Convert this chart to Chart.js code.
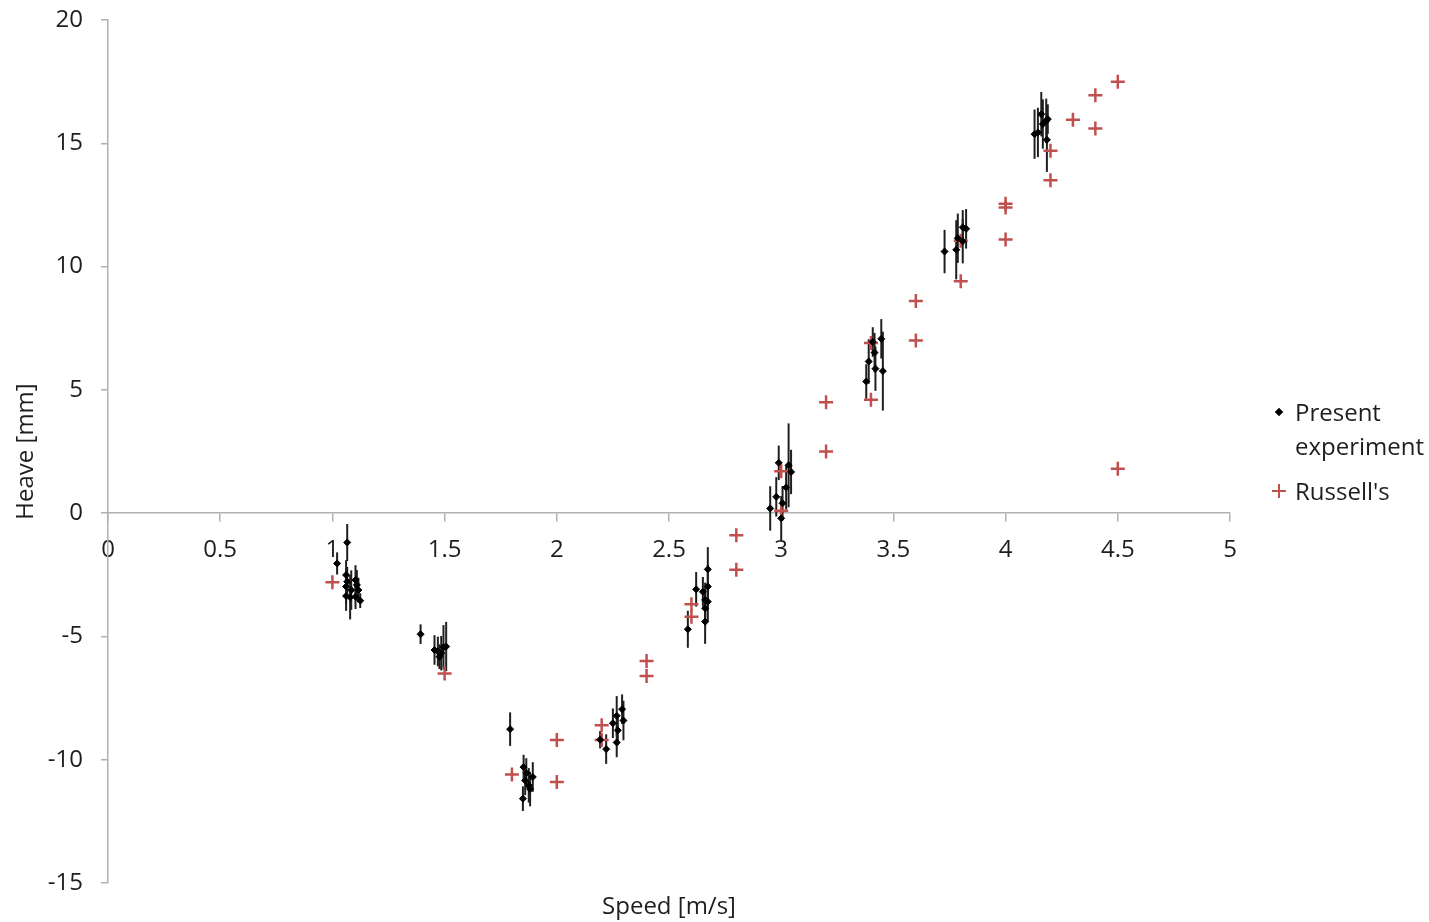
<!DOCTYPE html>
<html>
<head>
<meta charset="utf-8">
<script src="https://cdn.jsdelivr.net/npm/chart.js@4.4.1/dist/chart.umd.min.js"></script>
<style>
  body { margin: 0; background: #fff; font-family: "Open Sans", Lato, sans-serif; color: #1e1e1e; }
  #wrap { position: relative; width: 1429px; height: 922px; }
  #xtitle { position: absolute; left: 569px; width: 200px; top: 888px; text-align: center; font-size: 24px; }
  #legend { position: absolute; left: 1270px; top: 395px; font-size: 24px; line-height: 34px; }
  #legend .row { position: relative; padding-left: 25px; }
  #legend .dia { position: absolute; left: 6px; top: 14px; width: 6px; height: 6px; background: #000; transform: rotate(45deg); }
  #legend .plus { position: absolute; left: 2px; top: 10px; width: 14px; height: 14px; }
  #legend .plus:before, #legend .plus:after { content: ""; position: absolute; background: #c0504d; }
  #legend .plus:before { left: 6px; top: 0; width: 2px; height: 14px; }
  #legend .plus:after { left: 0; top: 6px; width: 14px; height: 2px; }
</style>
</head>
<body>
<div id="wrap">
  <canvas id="myChart"></canvas>
  <div id="xtitle">Speed [m/s]</div>
  <div id="legend">
    <div class="row"><span class="dia"></span>Present<br>experiment</div>
    <div class="row" style="margin-top:11px"><span class="plus"></span>Russell's</div>
  </div>
</div>
<script>
// present experiment: speed, heave and +/- error
var expSpeed = [1.021, 1.066, 1.061, 1.066, 1.061, 1.061, 1.079, 1.103, 1.109, 1.116, 1.103, 1.124, 1.084,
  1.393, 1.455, 1.470, 1.485, 1.495, 1.507, 1.477,
  1.792, 1.852, 1.864, 1.859, 1.875, 1.893, 1.849, 1.881,
  2.193, 2.220, 2.250, 2.267, 2.272, 2.291, 2.297, 2.267,
  2.584, 2.621, 2.673, 2.673, 2.661, 2.673, 2.661, 2.661, 2.651,
  2.951, 2.978, 2.989, 3.022, 3.033, 3.044, 3.000, 3.006,
  3.379, 3.390, 3.408, 3.416, 3.420, 3.446, 3.453,
  3.728, 3.780, 3.787, 3.809, 3.824, 3.809,
  4.129, 4.144, 4.159, 4.166, 4.181, 4.188, 4.184];
var expHeave = [-2.04, -1.19, -2.51, -2.78, -2.98, -3.36, -3.41, -2.71, -2.91, -3.12, -3.39, -3.55, -3.12,
  -4.91, -5.55, -5.61, -5.68, -5.44, -5.41, -5.82,
  -8.76, -10.30, -10.54, -10.84, -11.04, -10.70, -11.58, -11.19,
  -9.19, -9.57, -8.52, -8.22, -8.81, -7.95, -8.41, -9.30,
  -4.71, -3.09, -2.28, -2.98, -3.52, -3.59, -3.86, -4.40, -3.19,
  0.19, 0.66, 2.04, 1.04, 1.94, 1.67, -0.21, 0.40,
  5.34, 6.15, 6.94, 6.51, 5.86, 7.07, 5.76,
  10.61, 10.68, 11.15, 11.59, 11.53, 11.03,
  15.37, 15.44, 16.18, 15.78, 15.91, 15.98, 15.14];
var expErr = [0.45, 0.75, 0.6, 0.6, 0.7, 0.6, 0.9, 0.6, 0.6, 0.5, 0.5, 0.3, 0.8,
  0.4, 0.6, 0.6, 0.7, 0.9, 1.0, 0.5,
  0.68, 0.5, 0.6, 0.6, 0.7, 0.6, 0.5, 0.7,
  0.35, 0.6, 0.6, 0.8, 0.6, 0.6, 0.8, 0.6,
  0.75, 0.7, 0.9, 0.9, 0.7, 0.8, 0.7, 0.9, 0.6,
  0.9, 0.8, 0.7, 0.9, 1.7, 0.9, 0.9, 0.7,
  0.7, 0.9, 0.6, 0.8, 0.9, 0.8, 1.6,
  0.88, 1.2, 1.0, 0.7, 0.8, 0.9,
  1.0, 1.0, 0.9, 1.0, 0.9, 0.6, 1.3];

// Russell's measurements
var russellSpeed = [1.0, 1.5, 1.8, 2.0, 2.0, 2.2, 2.2, 2.4, 2.4, 2.6, 2.6, 2.8, 2.8, 3.0, 3.0,
  3.2, 3.2, 3.4, 3.4, 3.6, 3.6, 3.8, 3.8, 4.0, 4.0, 4.0, 4.2, 4.2, 4.3, 4.4, 4.4, 4.5, 4.5];
var russellHeave = [-2.8, -6.5, -10.6, -9.2, -10.9, -8.6, -9.2, -6.0, -6.6, -3.7, -4.2, -0.9, -2.3, 1.7, 0.1,
  4.5, 2.5, 6.9, 4.6, 8.6, 7.0, 11.05, 9.4, 12.55, 12.4, 11.1, 14.7, 13.5, 15.95, 16.95, 15.6, 17.5, 1.8];

var xTicks = [0, 0.5, 1, 1.5, 2, 2.5, 3, 3.5, 4, 4.5, 5];
var yTicks = [-15, -10, -5, 0, 5, 10, 15, 20];

function toPoints(xs, ys) {
  return xs.map(function (x, i) { return {x: x, y: ys[i]}; });
}

// vertical error bars for datasets carrying an `errors` array
var errorBars = {
  id: 'errorBars',
  beforeDatasetsDraw: function (chart) {
    var ctx = chart.ctx, xs = chart.scales.x, ys = chart.scales.y;
    chart.data.datasets.forEach(function (ds) {
      if (!ds.errors) return;
      ctx.save();
      ctx.strokeStyle = '#1f1f1f';
      ctx.lineWidth = 2;
      ds.data.forEach(function (p, i) {
        var px = xs.getPixelForValue(p.x);
        ctx.beginPath();
        ctx.moveTo(px, ys.getPixelForValue(p.y + ds.errors[i]));
        ctx.lineTo(px, ys.getPixelForValue(p.y - ds.errors[i]));
        ctx.stroke();
      });
      ctx.restore();
    });
  }
};

Chart.defaults.font.family = '"Open Sans", Lato, sans-serif';
Chart.defaults.color = '#1e1e1e';

var ctx = document.getElementById('myChart').getContext('2d');
var myChart = new Chart(ctx, {
  type: 'scatter',
  data: {
    datasets: [{
      label: 'Present experiment',
      data: toPoints(expSpeed, expHeave),
      errors: expErr,
      pointStyle: 'rectRot',
      radius: 3.5,
      backgroundColor: '#000',
      borderColor: '#000',
      borderWidth: 1
    }, {
      label: "Russell's",
      data: toPoints(russellSpeed, russellHeave),
      pointStyle: 'cross',
      radius: 7,
      borderColor: '#c0504d',
      borderWidth: 2.5
    }]
  },
  options: {
    responsive: true,
    maintainAspectRatio: false,
    animation: false,
    layout: { padding: { left: 0, right: 199, top: 20, bottom: 39 } },
    plugins: {
      legend: { display: false },
      tooltip: { enabled: false }
    },
    scales: {
      x: {
        type: 'linear',
        position: { y: 0 },
        min: 0, max: 5,
        afterBuildTicks: function (s) { s.ticks = xTicks.map(function (v) { return {value: v}; }); },
        ticks: {
          font: { size: 24 },
          padding: 15,
          maxRotation: 0,
          callback: function (v) { return String(Math.round(v * 10) / 10); }
        },
        grid: { drawOnChartArea: false, tickLength: 8, color: '#b0b0b0', lineWidth: 1.5 },
        border: { color: '#b0b0b0', width: 1.5 }
      },
      y: {
        type: 'linear',
        position: 'left',
        min: -15, max: 20,
        afterBuildTicks: function (s) { s.ticks = yTicks.map(function (v) { return {value: v}; }); },
        afterFit: function (s) { s.width = 108; s.paddingTop = 12; s.paddingBottom = 12; },
        ticks: { font: { size: 24 }, padding: 18 },
        grid: { drawOnChartArea: false, tickLength: 7, color: '#b0b0b0', lineWidth: 1.5 },
        border: { color: '#b0b0b0', width: 1.5 },
        title: { display: true, text: 'Heave [mm]', font: { size: 24 }, padding: { top: 12, bottom: 0 } }
      }
    }
  },
  plugins: [errorBars]
});
</script>
</body>
</html>
